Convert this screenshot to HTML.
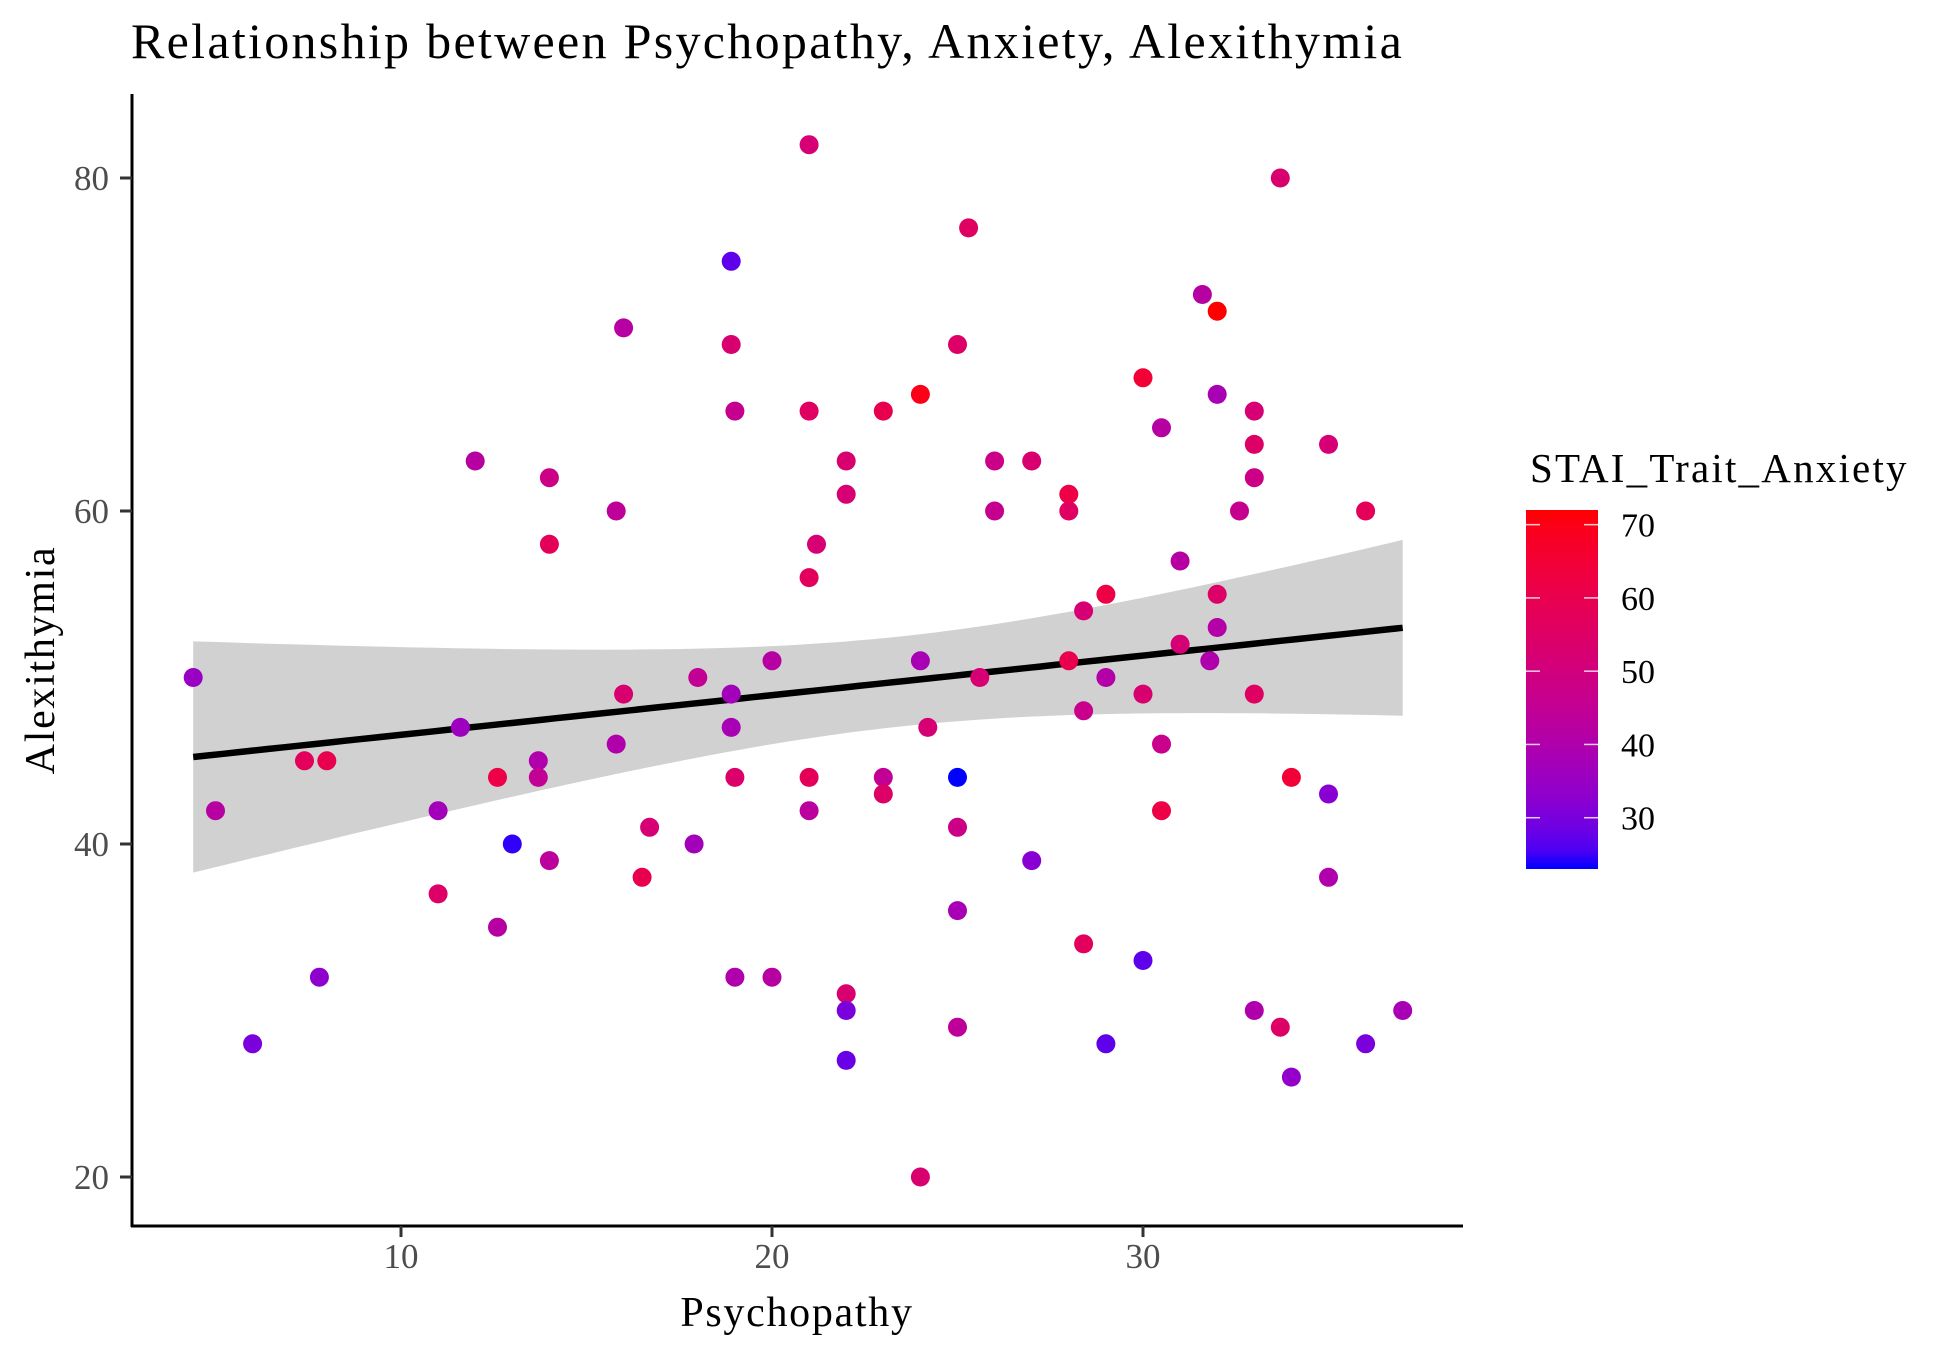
<!DOCTYPE html>
<html><head><meta charset="utf-8"><style>
html,body{margin:0;padding:0;background:#fff;}
svg{display:block;font-family:"Liberation Serif",serif;}
</style></head><body>
<svg id="chart" width="1950" height="1350" viewBox="0 0 1950 1350" xmlns="http://www.w3.org/2000/svg">
<defs><linearGradient id="cbar" x1="0" y1="1" x2="0" y2="0"></linearGradient></defs>
<text x="131" y="58" font-size="50" letter-spacing="2.3" fill="#000">Relationship between Psychopathy, Anxiety, Alexithymia</text>
<g id="ribbon-layer"></g>
<g id="points-layer"></g>
<g id="axes-layer"></g>
<text x="797" y="1326" font-size="42" letter-spacing="1.7" text-anchor="middle" fill="#000">Psychopathy</text>
<text transform="translate(54,660) rotate(-90)" font-size="42" letter-spacing="1.7" text-anchor="middle" fill="#000">Alexithymia</text>
<g id="legend">
<text x="1530" y="482" font-size="41" letter-spacing="2.2" fill="#000">STAI_Trait_Anxiety</text>
</g>
</svg>
<script>
const psychopathy=[4.4,5,6,7.4,8,7.8,11,11,11.6,12,12.6,12.6,13,13.7,13.7,14,14,14,15.8,15.8,16,16,16.5,16.7,17.9,18,18.9,18.9,19,18.9,18.9,19,19,20,20,21,21,21,21,21,21.2,22,22,22,22,22,23,23,23,24,24,24,24.2,25,25,25,25,25,25.3,25.6,26,26,27,27,28,28,28,28.4,28.4,28.4,29,29,29,30,30,30,30.5,30.5,30.5,31,31,31.6,31.8,32,32,32,32,32.6,33,33,33,33,33,33.7,33.7,34,34,35,35,35,36,36,37];
const alexithymia=[50,42,28,45,45,32,42,37,47,63,44,35,40,45,44,62,58,39,60,46,71,49,38,41,40,50,75,70,66,49,47,44,32,51,32,82,66,56,44,42,58,63,61,31,30,27,66,44,43,67,51,20,47,70,44,41,36,29,77,50,63,60,63,39,61,60,51,54,48,34,55,50,28,68,49,33,65,46,42,57,52,73,51,72,67,55,53,60,66,64,62,49,30,80,29,44,26,64,43,38,60,28,30];
const anxiety=[35,42,30,57,60,33,37,55,36,42,62,42,24,40,45,48,58,43,44,40,42,53,60,52,37,45,27,53,46,37,38,54,40,42,42,52,56,57,58,43,52,53,52,53,30,28,60,45,55,70,38,53,52,55,23,48,38,44,56,52,48,46,53,32,62,56,60,52,47,57,62,41,27,65,53,27,42,47,62,42,52,42,40,72,38,55,41,46,52,55,48,56,40,53,55,65,34,52,32,40,58,30,38];
const xTicks=[10,20,30];
const yTicks=[20,40,60,80];
const legendTicks=[30,40,50,60,70];

const NS="http://www.w3.org/2000/svg";
const X0=30,XS=37.1;
function xs(v){return X0+XS*v;}
function ys(v){return 178+(80-v)*16.65;}
const cMin=23,cMax=72;
function srgbToLin(c){c/=255;return c<=0.04045?c/12.92:Math.pow((c+0.055)/1.055,2.4);}
function linToSrgb(c){c=c<=0.0031308?12.92*c:1.055*Math.pow(c,1/2.4)-0.055;return Math.max(0,Math.min(255,Math.round(c*255)));}
function toLab(r,g,b){r=srgbToLin(r);g=srgbToLin(g);b=srgbToLin(b);
let X=(0.4124*r+0.3576*g+0.1805*b)/0.95047,Y=0.2126*r+0.7152*g+0.0722*b,Z=(0.0193*r+0.1192*g+0.9505*b)/1.08883;
const f=t=>t>0.008856?Math.cbrt(t):7.787*t+16/116;
return [116*f(Y)-16,500*(f(X)-f(Y)),200*(f(Y)-f(Z))];}
function fromLab(L,a,b){let fy=(L+16)/116,fx=fy+a/500,fz=fy-b/200;
const fi=t=>t*t*t>0.008856?t*t*t:(t-16/116)/7.787;
let X=fi(fx)*0.95047,Y=fi(fy),Z=fi(fz)*1.08883;
let r=3.2406*X-1.5372*Y-0.4986*Z,g=-0.9689*X+1.8758*Y+0.0415*Z,bb=0.0557*X-0.2040*Y+1.0570*Z;
return "rgb("+linToSrgb(r)+","+linToSrgb(g)+","+linToSrgb(bb)+")";}
const labLo=toLab(0,0,255),labHi=toLab(255,0,0);
function col(v){let t=(v-cMin)/(cMax-cMin);t=Math.max(0,Math.min(1,t));
return fromLab(labLo[0]+(labHi[0]-labLo[0])*t,labLo[1]+(labHi[1]-labLo[1])*t,labLo[2]+(labHi[2]-labLo[2])*t);}
function mk(tag,attrs,parent){const e=document.createElementNS(NS,tag);for(const k in attrs)e.setAttribute(k,attrs[k]);parent.appendChild(e);return e;}

const n=psychopathy.length;
let mx=0,my=0;for(let i=0;i<n;i++){mx+=psychopathy[i];my+=alexithymia[i];}mx/=n;my/=n;
let sxx=0,sxy=0;for(let i=0;i<n;i++){sxx+=(psychopathy[i]-mx)**2;sxy+=(psychopathy[i]-mx)*(alexithymia[i]-my);}
const slope=sxy/sxx,icpt=my-slope*mx;
let sse=0;for(let i=0;i<n;i++){sse+=(alexithymia[i]-icpt-slope*psychopathy[i])**2;}
const sig=Math.sqrt(sse/(n-2)),tq=1.984;
const xmin=Math.min(...psychopathy),xmax=Math.max(...psychopathy);
let up=[],lo=[],mid=[];
for(let k=0;k<=80;k++){const xv=xmin+(xmax-xmin)*k/80;const f=icpt+slope*xv;
const h=tq*sig*Math.sqrt(1/n+(xv-mx)**2/sxx);
up.push(xs(xv).toFixed(1)+","+ys(f+h).toFixed(1));lo.unshift(xs(xv).toFixed(1)+","+ys(f-h).toFixed(1));mid.push(xs(xv).toFixed(1)+","+ys(f).toFixed(1));}
const rl=document.getElementById('ribbon-layer');
const rib=mk('polygon',{points:up.concat(lo).join(' '),fill:'#d1d1d1'},rl);


const pl=document.getElementById('points-layer');
for(let i=0;i<n;i++){
const c=mk('circle',{cx:xs(psychopathy[i]).toFixed(1),cy:ys(alexithymia[i]).toFixed(1),r:9.5,fill:col(anxiety[i])},pl);


}
const fit=mk('polyline',{points:mid.join(' '),fill:'none',stroke:'#000','stroke-width':6.5},rl);


document.getElementById('chart').insertBefore(pl,document.getElementById('axes-layer'));

const al=document.getElementById('axes-layer');
const xa=mk('line',{x1:131,y1:1226,x2:1463,y2:1226,stroke:'#000','stroke-width':3},al);


const ya=mk('line',{x1:132,y1:94,x2:132,y2:1227,stroke:'#000','stroke-width':3},al);


xTicks.forEach(v=>{
const t=mk('line',{x1:xs(v),y1:1226,x2:xs(v),y2:1237,stroke:'#333','stroke-width':3},al);


const l=mk('text',{x:xs(v),y:1268,'font-size':35,'text-anchor':'middle',fill:'#4d4d4d'},al);l.textContent=v;


});
yTicks.forEach(v=>{
const t=mk('line',{x1:120,y1:ys(v),x2:132,y2:ys(v),stroke:'#333','stroke-width':3},al);


const l=mk('text',{x:109,y:ys(v)+12,'font-size':35,'text-anchor':'end',fill:'#4d4d4d'},al);l.textContent=v;


});

const g=document.getElementById('cbar');
for(let k=0;k<=20;k++){mk('stop',{offset:(k/20),'stop-color':col(cMin+(cMax-cMin)*k/20)},g);}
const lg=document.getElementById('legend');
const BT=510,BB=869;
function ls(v){return BB-(v-cMin)/(cMax-cMin)*(BB-BT);}
const bar=mk('rect',{x:1526,y:BT,width:72,height:BB-BT,fill:'url(#cbar)'},lg);


legendTicks.forEach(v=>{
mk('line',{x1:1526,y1:ls(v),x2:1540,y2:ls(v),stroke:'#fff','stroke-width':1.5,opacity:0.8},lg);
mk('line',{x1:1584,y1:ls(v),x2:1598,y2:ls(v),stroke:'#fff','stroke-width':1.5,opacity:0.8},lg);
const l=mk('text',{x:1621,y:ls(v)+12,'font-size':34,fill:'#000'},lg);l.textContent=v;


});
</script>
</body></html>
